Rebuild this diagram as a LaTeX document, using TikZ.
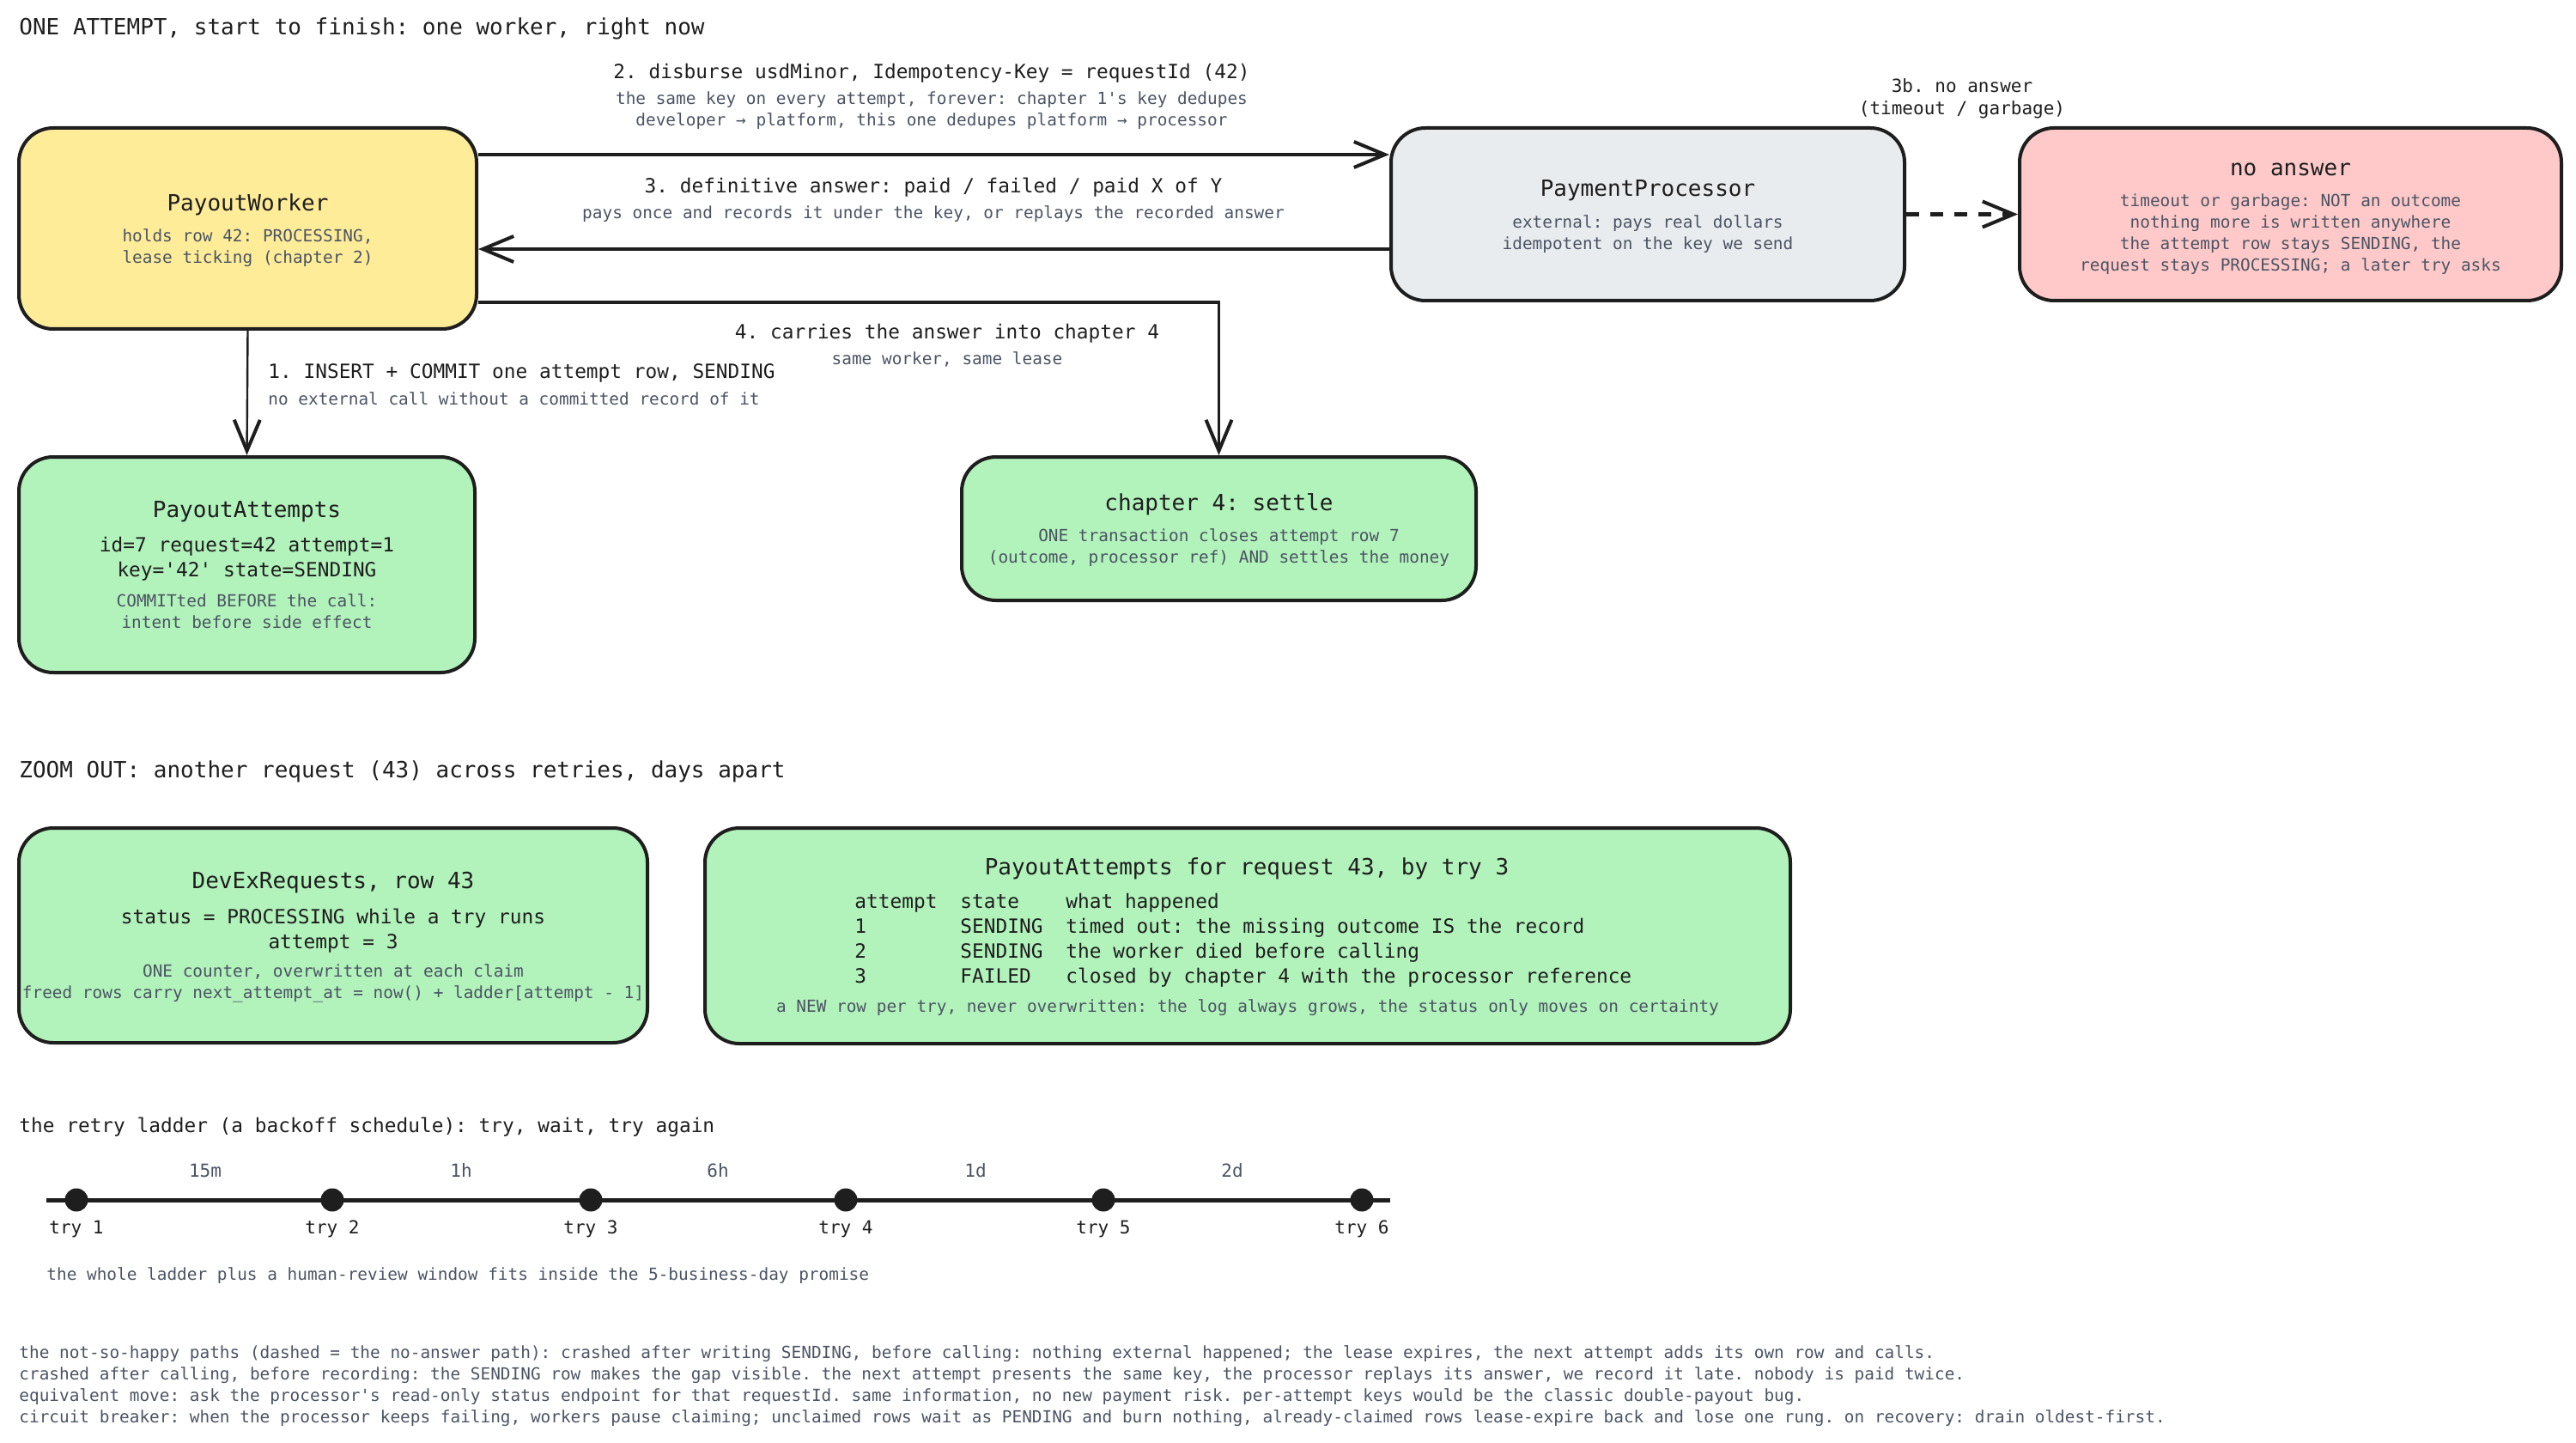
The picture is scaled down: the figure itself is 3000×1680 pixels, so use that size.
\documentclass[tikz,border=0pt]{standalone}
\usepackage{fontspec}
\setmonofont{DejaVu Sans Mono}
\usetikzlibrary{arrows.meta}
\definecolor{ink}{HTML}{1E1E1E}
\definecolor{mut}{HTML}{4B5463}
\definecolor{fyel}{HTML}{FFEC99}
\definecolor{fgry}{HTML}{E9ECEF}
\definecolor{fred}{HTML}{FFC9C9}
\definecolor{fgrn}{HTML}{B2F2BB}
\newcommand\myT{\fontsize{13}{16}\selectfont\ttfamily}
\newcommand\myB{\fontsize{11.4}{14.5}\selectfont\ttfamily}
\newcommand\myS{\fontsize{9.7}{12.5}\selectfont\ttfamily}
\newcommand\myL{\fontsize{10.5}{13}\selectfont\ttfamily}
\begin{document}
\begin{tikzpicture}[x=0.5pt,y=-0.5pt,
  box/.style={draw=ink, line width=2pt, rounded corners=20pt, inner sep=0pt},
  ttl/.style={font=\myT, text=ink, inner sep=0pt},
  bod/.style={font=\myB, text=ink, align=center, inner sep=0pt},
  sml/.style={font=\myS, text=mut, align=center, inner sep=0pt},
  lab/.style={font=\myL, text=ink, align=center, inner sep=0pt},
  arr/.style={draw=ink, line width=1.8pt, -{Straight Barb[length=18pt,width=15pt,line width=2pt]}},
  dotn/.style={circle, fill=ink, inner sep=0pt, minimum size=13.5pt},
]
\useasboundingbox (0,0) rectangle (3000,1680);

% headings
\node[ttl, anchor=west] (h1) at (22,33) {ONE ATTEMPT, start to finish: one worker, right now};
\node[ttl, anchor=west] (h2) at (22,898) {ZOOM OUT: another request (43) across retries, days apart};
\node[bod, anchor=west] (h3) at (22,1312) {the retry ladder (a backoff schedule): try, wait, try again};

% boxes
\node[box, fill=fyel, minimum width=266.5pt, minimum height=117pt] (worker) at (288.5,266) {};
\node[box, fill=fgrn, minimum width=265.5pt, minimum height=125.5pt] (attempts) at (287.5,657.5) {};
\node[box, fill=fgry, minimum width=299pt, minimum height=100.5pt] (proc) at (1919,249.5) {};
\node[box, fill=fred, minimum width=315.5pt, minimum height=100.5pt] (noans) at (2667.5,249.5) {};
\node[box, fill=fgrn, minimum width=299.5pt, minimum height=83.5pt] (ch4) at (1419.5,615.5) {};
\node[box, fill=fgrn, minimum width=366pt, minimum height=125pt] (devex) at (388,1089) {};
\node[box, fill=fgrn, minimum width=632pt, minimum height=125.5pt] (tbl) at (1453,1089.5) {};

% box texts
\node[ttl] (wT) at (288.5,238) {PayoutWorker};
\node[sml] (wS) at (288.5,288.5) {holds row 42: PROCESSING,\\lease ticking (chapter 2)};

\node[ttl] (aT) at (287.5,596) {PayoutAttempts};
\node[bod] (aB) at (287.5,651) {id=7 request=42 attempt=1\\key='42' state=SENDING};
\node[sml] (aS) at (287.5,711.5) {COMMITted BEFORE the call:\\intent before side effect};

\node[ttl] (pT) at (1919,222) {PaymentProcessor};
\node[sml] (pS) at (1919,272.5) {external: pays real dollars\\idempotent on the key we send};

\node[ttl] (nT) at (2667.5,197) {no answer};
\node[sml] (nS) at (2667.5,272.5) {timeout or garbage: NOT an outcome\\nothing more is written anywhere\\the attempt row stays SENDING, the\\request stays PROCESSING; a later try asks};

\node[ttl] (cT) at (1419.5,587) {chapter 4: settle};
\node[sml] (cS) at (1419.5,638) {ONE transaction closes attempt row 7\\(outcome, processor ref) AND settles the money};

\node[ttl] (dT) at (388,1028) {DevExRequests, row 43};
\node[bod] (dB) at (388,1083.5) {status = PROCESSING while a try runs\\attempt = 3};
\node[sml] (dS) at (388,1144.5) {ONE counter, overwritten at each claim\\freed rows carry next\_attempt\_at = now() + ladder[attempt - 1]};

\node[ttl] (tT) at (1452,1011) {PayoutAttempts for request 43, by try 3};
\node[bod, anchor=west, align=left] (tB) at (995,1095.5) {\begin{tabular}{@{}p{61.5pt}@{}p{61.5pt}@{}l@{}}
attempt & state & what happened\\
1 & SENDING & timed out: the missing outcome IS the record\\
2 & SENDING & the worker died before calling\\
3 & FAILED & closed by chapter 4 with the processor reference
\end{tabular}};
\node[sml] (tS) at (1453,1173) {a NEW row per try, never overwritten: the log always grows, the status only moves on certainty};

% connectors
\coordinate (y2) at (0,180);
\coordinate (y3) at (0,290);
\coordinate (y4) at (0,352);
\draw[arr] (worker.east |- y2) -- (proc.west |- y2);
\draw[arr] (proc.west |- y3) -- (worker.east |- y3);
\draw[arr] (worker.east |- y4) -| (ch4.north);
\draw[arr, line width=1.2pt] (worker.south) -- (attempts.north);
\draw[arr, line width=2.2pt, dash pattern=on 7.5pt off 6.5pt] (proc.east) -- (noans.west);

% connector labels
\node[bod] (l2) at (1085,85) {2. disburse usdMinor, Idempotency-Key = requestId (42)};
\node[sml] (l2s) at (1085,128.5) {the same key on every attempt, forever: chapter 1's key dedupes\\developer → platform, this one dedupes platform → processor};
\node[bod] (l3) at (1087,218) {3. definitive answer: paid / failed / paid X of Y};
\node[sml] (l3s) at (1087,249) {pays once and records it under the key, or replays the recorded answer};
\node[bod] (l4) at (1103,388) {4. carries the answer into chapter 4};
\node[sml] (l4s) at (1103,418) {same worker, same lease};
\node[bod, anchor=west] (l1) at (312,434) {1. INSERT + COMMIT one attempt row, SENDING};
\node[sml, anchor=west] (l1s) at (312,464) {no external call without a committed record of it};
\node[lab] (l3b) at (2285,115) {3b. no answer\\(timeout / garbage)};

% ladder
\coordinate (ls) at (54,1397);
\coordinate (le) at (1619,1397);
\draw[ink, line width=2.5pt] (ls) -- (le);
\node[dotn] (t1) at (89,1397) {};
\node[dotn] (t2) at (387,1397) {};
\node[dotn] (t3) at (688,1397) {};
\node[dotn] (t4) at (985,1397) {};
\node[dotn] (t5) at (1285,1397) {};
\node[dotn] (t6) at (1586,1397) {};
\node[lab] (k1) at (89,1431) {try 1};
\node[lab] (k2) at (387,1431) {try 2};
\node[lab] (k3) at (688,1431) {try 3};
\node[lab] (k4) at (985,1431) {try 4};
\node[lab] (k5) at (1285,1431) {try 5};
\node[lab] (k6) at (1586,1431) {try 6};
\node[lab, text=mut] (w1) at (239,1363) {15m};
\node[lab, text=mut] (w2) at (537,1363) {1h};
\node[lab, text=mut] (w3) at (836,1363) {6h};
\node[lab, text=mut] (w4) at (1136,1363) {1d};
\node[lab, text=mut] (w5) at (1435,1363) {2d};
\node[sml, anchor=west] (lf) at (54,1485) {the whole ladder plus a human-review window fits inside the 5-business-day promise};

% footer
\node[sml, anchor=west, align=left] (foot) at (22,1613.5) {the not-so-happy paths (dashed = the no-answer path): crashed after writing SENDING, before calling: nothing external happened; the lease expires, the next attempt adds its own row and calls.\\
crashed after calling, before recording: the SENDING row makes the gap visible. the next attempt presents the same key, the processor replays its answer, we record it late. nobody is paid twice.\\
equivalent move: ask the processor's read-only status endpoint for that requestId. same information, no new payment risk. per-attempt keys would be the classic double-payout bug.\\
circuit breaker: when the processor keeps failing, workers pause claiming; unclaimed rows wait as PENDING and burn nothing, already-claimed rows lease-expire back and lose one rung. on recovery: drain oldest-first.};
\end{tikzpicture}
\end{document}
